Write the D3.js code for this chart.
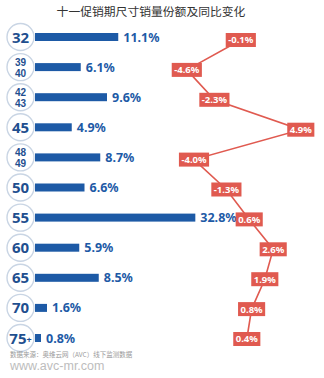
<!DOCTYPE html>
<html>
<head>
<meta charset="utf-8">
<script src="https://cdn.jsdelivr.net/npm/d3@7"></script>
<style>
  html, body { margin: 0; padding: 0; background: #ffffff; }
  svg { display: block; }
</style>
</head>
<body>
<svg id="chart" width="324" height="378"></svg>
<script>
// Screen sizes (inches), sales share during the promotion, and year-on-year change
const sizeLabels = ["32", "39/40", "42/43", "45", "48/49", "50", "55", "60", "65", "70", "75+"];
const shareValues = [11.1, 6.1, 9.6, 4.9, 8.7, 6.6, 32.8, 5.9, 8.5, 1.6, 0.8];
const yoyValues = [-0.1, -4.6, -2.3, 4.9, -4.0, -1.3, 0.6, 2.6, 1.9, 0.8, 0.4];
const titleText = "十一促销期尺寸销量份额及同比变化";
const sourceText = "数据来源：奥维云网（AVC）线下监测数据";
const siteText = "www.avc-mr.com";

const rows = sizeLabels.map((s, i) => ({ size: s, share: shareValues[i], yoy: yoyValues[i] }));

const blue = "#1d5aa6";
const red = "#e05a50";
const svg = d3.select("#chart");

// Row positions
const y = d3.scalePoint().domain(sizeLabels).range([37, 338]);
const yLine = d3.scalePoint().domain(sizeLabels).range([40, 339]);

// Share bars: compressed beyond 12% so the 55" bar fits the panel
const x = d3.scaleLinear().domain([0, 12, 33]).range([35, 125, 196]);

// YoY change axis
const xc = d3.scaleLinear().domain([-5, 5]).range([182, 302]);

// Title
svg.append("text")
  .attr("x", 151).attr("y", 16)
  .attr("text-anchor", "middle")
  .attr("font-family", "'Noto Sans CJK SC', sans-serif")
  .attr("font-size", 11.8)
  .attr("fill", "#333")
  .text(titleText);

// Bars
svg.append("g").selectAll("rect").data(rows).join("rect")
  .attr("x", x(0))
  .attr("y", d => y(d.size) - 4)
  .attr("width", d => x(d.share) - x(0))
  .attr("height", 8)
  .attr("fill", blue);

// Share labels
svg.append("g").selectAll("text").data(rows).join("text")
  .attr("x", d => x(d.share) + 5)
  .attr("y", d => y(d.size) + 4.5)
  .attr("font-family", "'Noto Sans', 'Open Sans', sans-serif")
  .attr("font-weight", "bold")
  .attr("font-size", 12.5)
  .attr("fill", blue)
  .text(d => d.share.toFixed(1) + "%");

// Size circles
const badge = svg.append("g").selectAll("g").data(rows).join("g")
  .attr("transform", d => `translate(20.5,${y(d.size)})`);
badge.append("circle")
  .attr("r", 13.5)
  .attr("fill", "#fff")
  .attr("stroke", "#c9d5e4")
  .attr("stroke-width", 1.4);
badge.each(function(d) {
  const g = d3.select(this);
  const parts = d.size.split("/");
  const base = { "font-weight": "bold", "fill": "#1f4f8f" };
  if (parts.length === 2) {
    parts.forEach((p, k) => {
      const t = g.append("text").attr("text-anchor", "middle")
        .attr("font-family", "'Liberation Sans', Arial, sans-serif")
        .attr("y", k === 0 ? -1.6 : 9.8).attr("font-size", 10).text(p);
      Object.entries(base).forEach(([a, v]) => t.attr(a, v));
    });
  } else if (d.size.endsWith("+")) {
    const t = g.append("text").attr("text-anchor", "middle").attr("x", 0).attr("y", 5.5)
      .attr("font-family", "'Noto Sans', 'Open Sans', sans-serif").attr("font-size", 15);
    Object.entries(base).forEach(([a, v]) => t.attr(a, v));
    t.append("tspan").text(d.size.slice(0, -1));
    t.append("tspan").attr("font-size", 9).attr("dy", -1).text("+");
  } else {
    const t = g.append("text").attr("text-anchor", "middle").attr("y", 5.5)
      .attr("font-family", "'Noto Sans', 'Open Sans', sans-serif").attr("font-size", 15).text(d.size);
    Object.entries(base).forEach(([a, v]) => t.attr(a, v));
  }
});

// YoY change line
const line = d3.line().x(d => xc(d.yoy)).y(d => yLine(d.size));
svg.append("path")
  .datum(rows)
  .attr("d", line)
  .attr("fill", "none")
  .attr("stroke", red)
  .attr("stroke-width", 1.6);

// YoY change tags
const tag = svg.append("g").selectAll("g").data(rows).join("g")
  .attr("transform", d => `translate(${xc(d.yoy)},${yLine(d.size)})`);
tag.append("rect").attr("fill", red);
const tagText = tag.append("text")
  .attr("text-anchor", "middle")
  .attr("y", 3.4)
  .attr("font-family", "'Noto Sans', 'Open Sans', sans-serif")
  .attr("font-weight", "bold")
  .attr("font-size", 9.5)
  .attr("fill", "#fff")
  .text(d => d.yoy.toFixed(1) + "%");
tagText.each(function() {
  const w = this.getComputedTextLength() + 5;
  d3.select(this.previousSibling)
    .attr("x", -w / 2).attr("y", -7)
    .attr("width", w).attr("height", 14);
});

// Source notes
svg.append("text")
  .attr("x", 10).attr("y", 357)
  .attr("font-family", "'Noto Sans CJK SC', sans-serif")
  .attr("font-size", 6.5)
  .attr("fill", "#9a9a9a")
  .text(sourceText);
svg.append("text")
  .attr("x", 10).attr("y", 370)
  .attr("font-family", "'Liberation Sans', Arial, sans-serif")
  .attr("font-size", 12.5)
  .attr("fill", "#bdbdbd")
  .text(siteText);
</script>
</body>
</html>
